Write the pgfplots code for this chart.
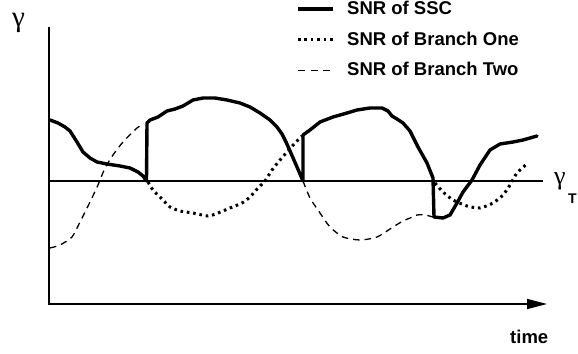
\documentclass[border=0pt]{standalone}
\usepackage{fontspec}
\setmainfont{Liberation Sans}
\newfontfamily\boldsans{Liberation Sans Bold}
\newfontfamily\greekfont{Liberation Serif}
\usepackage{pgfplots}
\pgfplotsset{compat=1.18}
\usetikzlibrary{arrows.meta}
\begin{document}
\begin{tikzpicture}
\begin{axis}[
  width=578bp, height=354bp, scale only axis,
  xmin=0, xmax=578, ymin=0, ymax=354,
  hide axis, clip=false,
  y dir=reverse,
]
% axes (pixel coordinates, y downward)
\draw[line width=1.5bp] (axis cs:49,27) -- (axis cs:49,304.7);
\draw[line width=1.5bp, -{Triangle[length=20bp,width=10bp]}] (axis cs:48.3,304) -- (axis cs:547,304);
% threshold
\draw[line width=1.2bp] (axis cs:49,181) -- (axis cs:543,181);

% Branch Two (dashed), visible parts
\addplot[smooth, tension=0.4, line width=1.3bp, dash pattern=on 6.5bp off 5bp] coordinates {
(50,248)(60,245)(72,237)(80,222)(90,202)(98,185)(105,168)(113,155)(123,142)(137,128)(144,124)
};
\addplot[smooth, tension=0.4, line width=1.3bp, dash pattern=on 6.5bp off 5bp] coordinates {
(303,181)(310,198)(320,213)(330,227)(343,237)(360,240)(377,237)(393,227)(403,221)(410,218)(417,215)(425,215)(433,217)
};
% Branch One (dotted), visible parts
\addplot[smooth, tension=0.4, line width=3bp, dash pattern=on 2.6bp off 3.8bp] coordinates {
(148,182)(153,190)(163,200)(170,207)(180,211)(193,213)(208,216)(218,213)(230,208)(242,203)(250,197)(258,188)(265,181)(272,170)(280,160)(287,152)(295,143)(302,136)
};
\addplot[smooth, tension=0.4, line width=3bp, dash pattern=on 2.6bp off 3.8bp] coordinates {
(435,183)(443,192)(453,200)(467,206)(480,208)(493,203)(503,195)(510,185)(517,173)(528,163)
};
% SSC (solid)
\addplot[line width=3.4bp, line join=round, line cap=round] coordinates {
(50,120)(58,123)(65,127)(70,131)(77,142)(83,152)(90,158)(97,162)(107,164)(120,166)(130,168)(138,172)(143,176)(146.5,181)
(147,123)(150,120)(158,117)(167,111)(175,109)(183,106)(193,100)(203,98)(215,98)(227,100)(240,103)(250,107)(260,113)(270,120)(277,127)(282,134)(286,142)(290,151)(297,167)(303,181)
(303,135)(310,130)(320,122)(333,117)(347,113)(357,110)(370,108)(382,108)(388,111)(392,116)(397,119)(403,123)(410,131)(418,147)(427,163)(433,178)
(434,217)(443,218)(450,215)(457,203)(463,192)(472,180)(480,165)(490,150)(500,144)(513,142)(523,140)(537,136)
};

% legend
\draw[line width=3.4bp] (axis cs:298,9) -- (axis cs:333,9);
\draw[line width=3bp, dash pattern=on 2.6bp off 3.8bp] (axis cs:298,40) -- (axis cs:333,40);
\draw[line width=1.3bp, dash pattern=on 7bp off 5.5bp] (axis cs:298,70.5) -- (axis cs:333,70.5);
\node[anchor=base west, inner sep=0pt, font=\boldsans\fontsize{18.5bp}{20bp}\selectfont] at (axis cs:347,15) {SNR of SSC};
\node[anchor=base west, inner sep=0pt, font=\boldsans\fontsize{18.5bp}{20bp}\selectfont] at (axis cs:347,46) {SNR of Branch One};
\node[anchor=base west, inner sep=0pt, font=\boldsans\fontsize{18.5bp}{20bp}\selectfont] at (axis cs:347,76) {SNR of Branch Two};

% labels
\node[anchor=base west, inner sep=0pt, font=\boldsans\fontsize{18.5bp}{20bp}\selectfont] at (axis cs:510,343) {time};
\node[anchor=base west, inner sep=0pt, font=\greekfont\fontsize{29bp}{30bp}\selectfont] at (axis cs:12,27) {γ};
\node[anchor=base west, inner sep=0pt, font=\greekfont\fontsize{26bp}{28bp}\selectfont] at (axis cs:554,184) {γ};
\node[anchor=base west, inner sep=0pt, font=\boldsans\fontsize{14bp}{16bp}\selectfont] at (axis cs:568,203) {T};
\end{axis}
\pgfresetboundingbox
\path (0,0) rectangle (578bp,354bp);
\end{tikzpicture}
\end{document}
